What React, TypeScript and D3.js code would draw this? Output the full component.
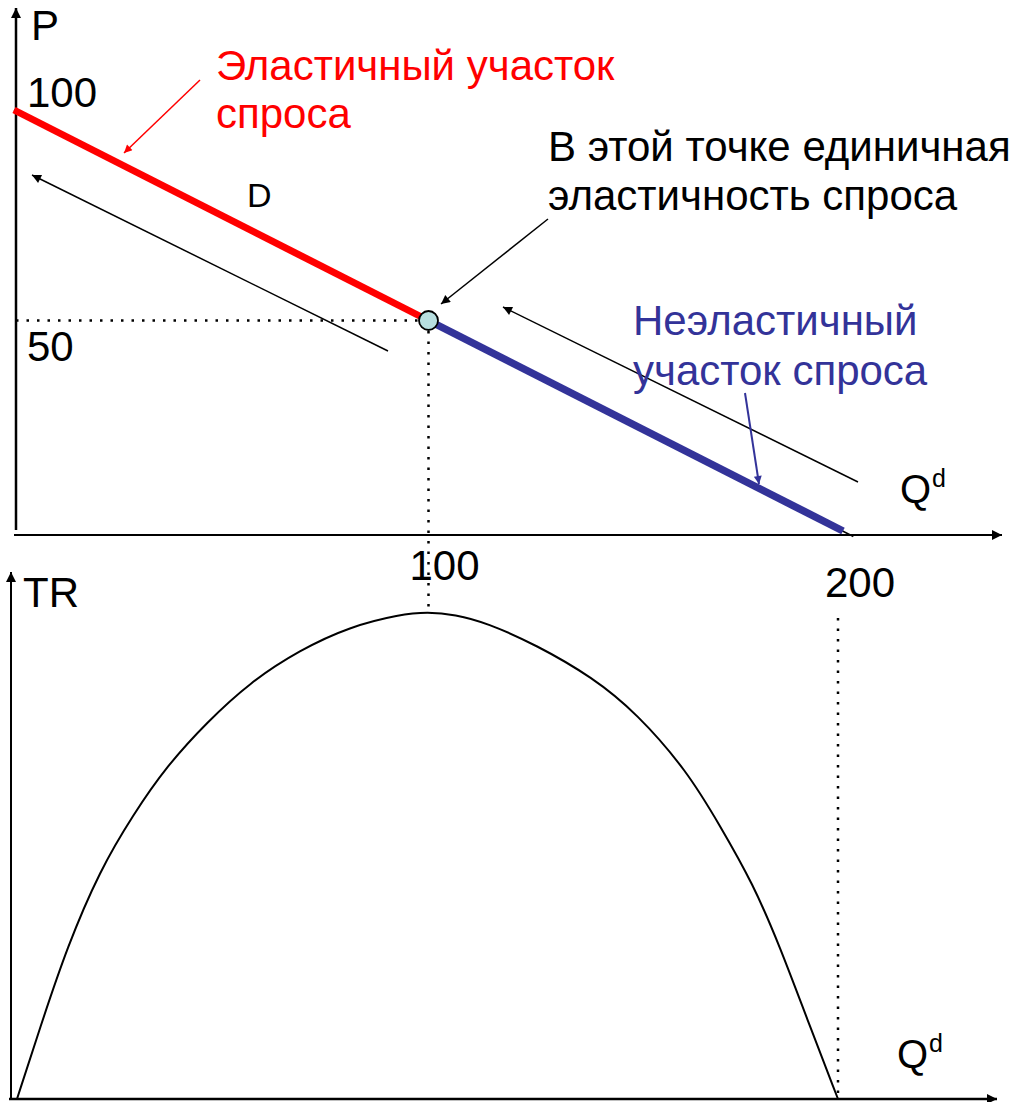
import React from "react";
import * as d3 from "d3";

// demand schedule: quantity vs price
const demandQ = [0, 100, 200];
const demandP = [100, 50, 0];

// total revenue
const trQ = [0, 5.6, 12.2, 20.2, 28.3, 36.5, 46.3, 56.8, 68.9, 81.1, 93.3, 100, 106.7, 114.4, 126.6, 140.2, 151, 163.2, 171.2, 179.3, 185.9, 192.4, 200];
const trValues = [0, 730, 1560, 2350, 2920, 3420, 3870, 4280, 4610, 4850, 4975, 5000, 4975, 4890, 4660, 4330, 3960, 3370, 2810, 2210, 1560, 830, 0];

const priceTicks = [100, 50];
const qTicks = [100, 200];

const FONT = "'Liberation Sans', Arial, sans-serif";
const RED = "#ff0000";
const BLUE = "#333399";

const App = () => {
  const width = 1019;
  const height = 1102;

  // upper panel
  const x1 = d3.scaleLinear().domain([0, 200]).range([14, 843]);
  const y1 = d3.scaleLinear().domain([0, 100]).range([531, 110]);
  const axisY1 = 535;
  const axisX1 = 16;

  // lower panel
  const x2 = d3.scaleLinear().domain([0, 200]).range([17, 838]);
  const y2 = d3.scaleLinear().domain([0, 5000]).range([1099, 612]);
  const axisY2 = 1099;
  const axisX2 = 11;

  const demand = demandQ.map((q, i) => ({ q, p: demandP[i] }));
  const tr = trQ.map((q, i) => ({ q, v: trValues[i] }));

  const dLine = d3
    .line<{ q: number; p: number }>()
    .x((d) => x1(d.q))
    .y((d) => y1(d.p));

  const trLine = d3
    .line<{ q: number; v: number }>()
    .x((d) => x2(d.q))
    .y((d) => y2(d.v))
    .curve(d3.curveBasis);

  const mid = demand[1];
  const px = x1(mid.q);
  const py = y1(mid.p);
  const peakY = y2(5000);

  const dotted = { stroke: "#000", strokeWidth: 2.5, strokeDasharray: "2.5 8", fill: "none" };

  return (
    <svg
      width={width}
      height={height}
      style={{ position: "absolute", left: 0, top: 0, display: "block", background: "#fff" }}
      fontFamily={FONT}
    >
      <defs>
        <marker id="axisHead" viewBox="0 0 10 10" refX="10" refY="5" markerWidth="14" markerHeight="10" markerUnits="userSpaceOnUse" orient="auto">
          <path d="M0,0 L10,5 L0,10 z" fill="#000" />
        </marker>
        <marker id="headBlack" viewBox="0 0 10 10" refX="10" refY="5" markerWidth="16" markerHeight="9" markerUnits="userSpaceOnUse" orient="auto">
          <path d="M0,0 L10,5 L0,10 z" fill="#000" />
        </marker>
        <marker id="headRed" viewBox="0 0 10 10" refX="10" refY="5" markerWidth="14" markerHeight="8" markerUnits="userSpaceOnUse" orient="auto">
          <path d="M0,0 L10,5 L0,10 z" fill={RED} />
        </marker>
        <marker id="headBlue" viewBox="0 0 10 10" refX="10" refY="5" markerWidth="14" markerHeight="8" markerUnits="userSpaceOnUse" orient="auto">
          <path d="M0,0 L10,5 L0,10 z" fill={BLUE} />
        </marker>
      </defs>

      {/* upper axes */}
      <line x1={axisX1} y1={530} x2={axisX1} y2={8} stroke="#000" strokeWidth={2.5} markerEnd="url(#axisHead)" />
      <line x1={14} y1={axisY1} x2={1002} y2={axisY1} stroke="#000" strokeWidth={2} markerEnd="url(#axisHead)" />

      {/* dotted guides */}
      <line x1={axisX1} y1={py} x2={px} y2={py} style={dotted} />
      <line x1={px} y1={py} x2={px} y2={peakY} style={dotted} />
      <line x1={x2(200)} y1={618} x2={x2(200)} y2={axisY2} style={dotted} />

      {/* demand curve */}
      <line x1={x1(0)} y1={y1(100)} x2={x1(202.5)} y2={y1(-1.3)} stroke="#000" strokeWidth={1.5} />
      <path d={dLine(demand.slice(0, 2)) || ""} stroke={RED} strokeWidth={7} fill="none" />
      <path d={dLine(demand.slice(1)) || ""} stroke={BLUE} strokeWidth={7.5} fill="none" />
      <circle cx={px} cy={py} r={9.5} fill="#b8dfe0" stroke="#000" strokeWidth={1.8} />

      {/* direction arrows */}
      <line x1={388} y1={351} x2={32} y2={175} stroke="#000" strokeWidth={1.5} markerEnd="url(#headBlack)" />
      <line x1={858} y1={482} x2={503} y2={307} stroke="#000" strokeWidth={1.5} markerEnd="url(#headBlack)" />
      <line x1={548} y1={219} x2={441} y2={304} stroke="#000" strokeWidth={1.5} markerEnd="url(#headBlack)" />
      <line x1={200} y1={80} x2={124} y2={153} stroke={RED} strokeWidth={1.5} markerEnd="url(#headRed)" />
      <line x1={745} y1={393} x2={759} y2={484} stroke={BLUE} strokeWidth={2} markerEnd="url(#headBlue)" />

      {/* upper texts */}
      <text x={31} y={40} fontSize={42}>P</text>
      <text x={27} y={y1(priceTicks[0]) - 3} fontSize={42}>{priceTicks[0]}</text>
      <text x={27} y={y1(priceTicks[1]) + 40} fontSize={42}>{priceTicks[1]}</text>
      <text x={247} y={207} fontSize={34}>D</text>
      <text x={216} y={80} fontSize={42} fill={RED}>Эластичный участок</text>
      <text x={216} y={128} fontSize={42} fill={RED}>спроса</text>
      <text x={548} y={161} fontSize={42}>В этой точке единичная</text>
      <text x={548} y={210} fontSize={42}>эластичность спроса</text>
      <text x={633} y={335} fontSize={42} fill={BLUE}>Неэластичный</text>
      <text x={633} y={385} fontSize={42} fill={BLUE}>участок спроса</text>
      <text x={900} y={503} fontSize={40}>Q</text>
      <text x={932} y={487} fontSize={25}>d</text>

      {/* lower axes */}
      <line x1={axisX2} y1={axisY2} x2={axisX2} y2={572} stroke="#000" strokeWidth={2} markerEnd="url(#axisHead)" />
      <line x1={9} y1={axisY2} x2={997} y2={axisY2} stroke="#000" strokeWidth={2.5} markerEnd="url(#axisHead)" />

      {/* quantity labels */}
      <text x={x1(qTicks[0]) - 19} y={580} fontSize={42}>{qTicks[0]}</text>
      <text x={x1(qTicks[1]) - 18} y={597} fontSize={42}>{qTicks[1]}</text>

      {/* total revenue */}
      <path d={trLine(tr) || ""} stroke="#000" strokeWidth={2} fill="none" />

      <text x={23} y={607} fontSize={42}>TR</text>
      <text x={897} y={1068} fontSize={40}>Q</text>
      <text x={929} y={1052} fontSize={25}>d</text>
    </svg>
  );
};

export default App;
